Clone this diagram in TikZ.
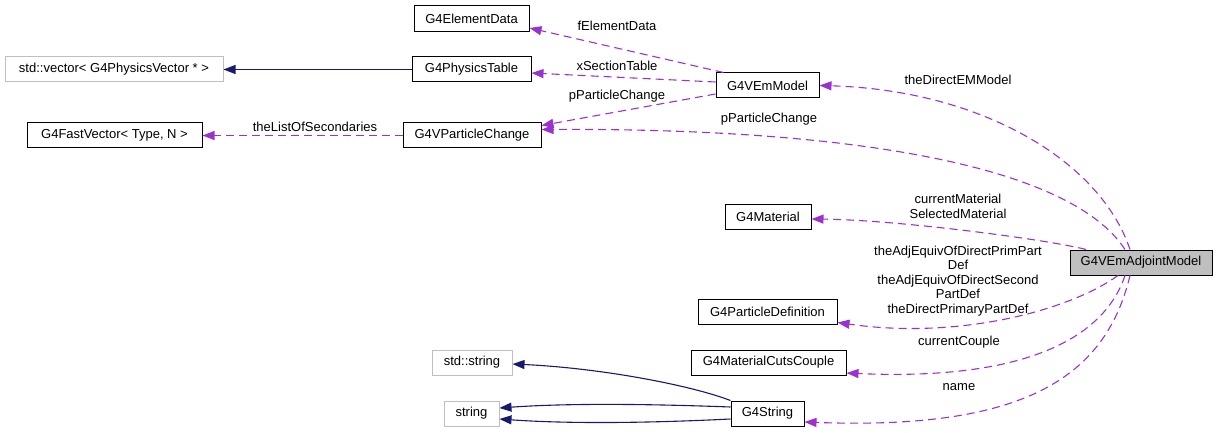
\documentclass[tikz,border=0pt]{standalone}
\usepackage{fontspec}
\setmainfont{Liberation Sans}
\usetikzlibrary{arrows.meta}
\definecolor{edgepurple}{RGB}{154,50,205}
\definecolor{edgenavy}{RGB}{25,25,112}
\definecolor{extgray}{RGB}{191,191,191}

\begin{document}
\begin{tikzpicture}[
      x=1pt,y=-1pt,
      every node/.style={font=\fontsize{13}{14.5}\selectfont, inner sep=0pt},
      cls/.style={draw, line width=1pt, minimum height=25pt},
      ext/.style={draw=extgray, line width=1pt, minimum height=25pt},
      cur/.style={draw, fill=extgray, line width=1pt, minimum height=25pt},
      usedby/.style={draw=edgepurple, line width=1.1pt, dash pattern=on 8pt off 5pt, -{Triangle[length=12pt,width=9pt]}},
      inherit/.style={draw=edgenavy, line width=1.1pt, -{Triangle[length=12pt,width=9pt]}},
      lbl/.style={align=center}
    ]
      \useasboundingbox (0,0) rectangle (1219,433);
      \node[ext, minimum width=218pt] (vec) at (114,69.5) {std::vector< G4PhysicsVector * >};
      \node[cls, minimum width=175pt] (fast) at (114.5,135.5) {G4FastVector< Type, N >};
      \node[cls, minimum width=115pt, minimum height=26pt] (edata) at (471.5,19) {G4ElementData};
      \node[cls, minimum width=119pt] (ptable) at (471.5,69.5) {G4PhysicsTable};
      \node[cls, minimum width=138pt] (pchange) at (472,135.5) {G4VParticleChange};
      \node[cls, minimum width=103pt] (vem) at (767.5,85.5) {G4VEmModel};
      \node[cls, minimum width=86pt] (mat) at (768,217) {G4Material};
      \node[cls, minimum width=139pt] (pdef) at (767.5,311.5) {G4ParticleDefinition};
      \node[cls, minimum width=155pt] (cuts) at (768.5,362.5) {G4MaterialCutsCouple};
      \node[ext, minimum width=80pt] (stds) at (472,362.5) {std::string};
      \node[ext, minimum width=55pt] (str) at (471.5,413.5) {string};
      \node[cls, minimum width=73pt] (g4s) at (767.5,413.5) {G4String};
      \node[cur, minimum width=142pt] (adj) at (1141,262.5) {G4VEmAdjointModel};

      \draw[inherit] (ptable.west) -- (vec.east);
      \draw[inherit] (g4s.north west) .. controls (690,385) and (600,368) .. ([yshift=-1.5pt]stds.east);
      \draw[inherit] ([yshift=6.5pt]g4s.west) .. controls (650,404) and (570,403) .. ([yshift=5.5pt]str.east);
      \draw[inherit] ([yshift=-5.5pt]g4s.west) .. controls (650,423) and (570,424) .. ([yshift=-5.5pt]str.east);

      \draw[usedby] (pchange.west) -- (fast.east);
      \draw[usedby] ([xshift=-44pt]vem.north) -- ([yshift=-9pt]edata.east);
      \draw[usedby] ([yshift=3.5pt]vem.west) -- ([yshift=-3.5pt]ptable.east);
      \draw[usedby] ([yshift=-8.5pt]vem.west) -- ([yshift=10pt]pchange.east);
      \draw[usedby] ([xshift=-16pt]adj.north) .. controls (1070,165) and (850,128) .. ([yshift=6pt]pchange.east);
      \draw[usedby] ([xshift=-11pt]adj.north) .. controls (1100,160) and (980,90) .. (vem.east);
      \draw[usedby] ([xshift=-55pt]adj.north) .. controls (1050,240) and (900,220) .. ([yshift=-2pt]mat.east);
      \draw[usedby] ([xshift=-23pt]adj.south) .. controls (1070,310) and (960,340) .. ([yshift=-11pt]pdef.east);
      \draw[usedby] ([xshift=-16pt]adj.south) .. controls (1100,350) and (1000,380) .. ([yshift=-10.5pt]cuts.east);
      \draw[usedby] ([xshift=-11pt]adj.south) .. controls (1105,380) and (1020,430) .. ([yshift=-8.5pt]g4s.east);

      \node[lbl] (lsec) at (315,127) {theListOfSecondaries};
      \node[lbl] (lelem) at (617,26) {fElementData};
      \node[lbl] (lxsec) at (617,66) {xSectionTable};
      \node[lbl] (lpch) at (617,96) {pParticleChange};
      \node[lbl] (lpch2) at (769,119) {pParticleChange};
      \node[lbl] (ldir) at (958,80) {theDirectEMModel};
      \node[lbl] (lmat) at (958,206.5) {currentMaterial\\SelectedMaterial};
      \node[lbl] (ldef) at (958,281) {theAdjEquivOfDirectPrimPart\\Def\\theAdjEquivOfDirectSecond\\PartDef\\theDirectPrimaryPartDef};
      \node[lbl] (lcpl) at (959,342) {currentCouple};
      \node[lbl] (lname) at (959,387) {name};
    \end{tikzpicture}
\end{document}
